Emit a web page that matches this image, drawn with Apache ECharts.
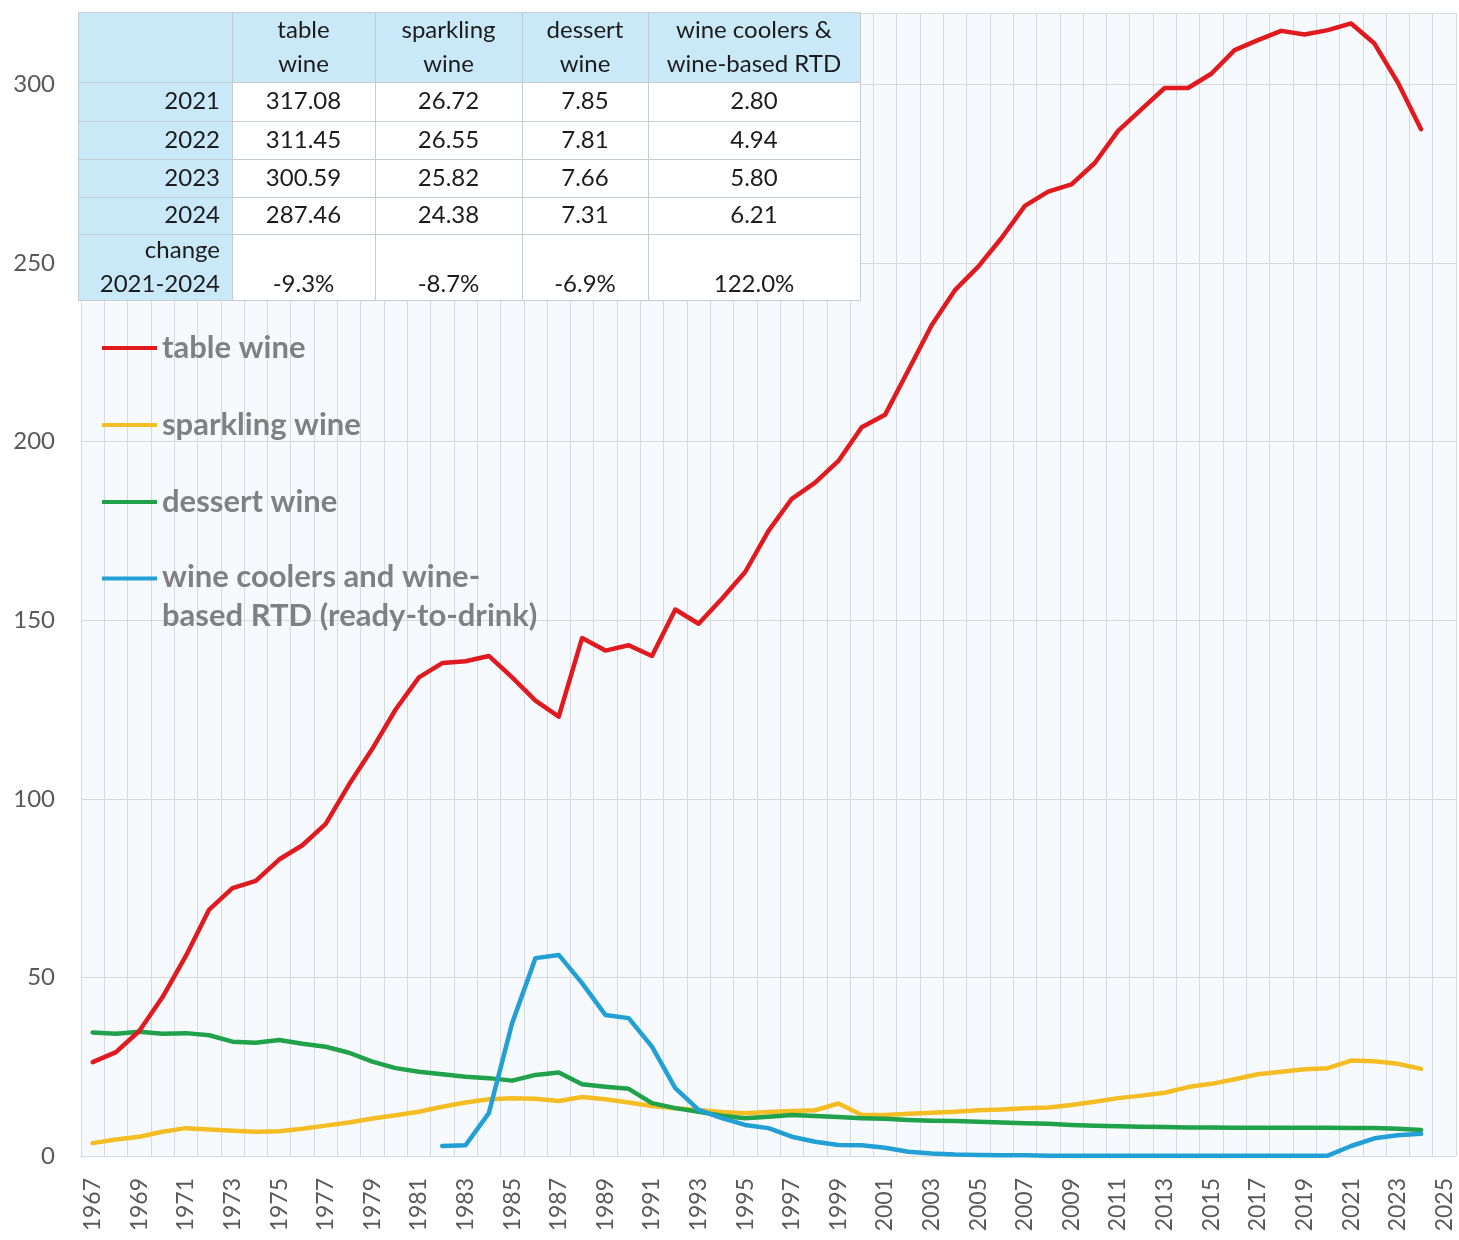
<!DOCTYPE html>
<html>
<head>
<meta charset="utf-8">
<script src="https://cdn.jsdelivr.net/npm/echarts@6/dist/echarts.min.js"></script>
<style>
html,body{margin:0;padding:0;background:#fff;}
#chart{width:1459px;height:1240px;}
</style>
</head>
<body>
<div id="chart"></div>
<script>
const years = ['1967','1968','1969','1970','1971','1972','1973','1974','1975','1976','1977','1978','1979','1980',
'1981','1982','1983','1984','1985','1986','1987','1988','1989','1990','1991','1992','1993','1994','1995','1996',
'1997','1998','1999','2000','2001','2002','2003','2004','2005','2006','2007','2008','2009','2010','2011','2012',
'2013','2014','2015','2016','2017','2018','2019','2020','2021','2022','2023','2024','2025'];

const tableWine = [26.3,29.1,35,44.5,56,69,75,77,83,87,93,104,114,125,
134,138,138.5,140,134,127.5,123,145,141.5,143,140,153,149,156,163.5,175,
184,188.5,194.6,204,207.5,220,232.6,242.4,249,257,266,270,272,278,287,293,
299,299,303,309.6,312.4,315,314,315.2,317.08,311.45,300.59,287.46,null];

const sparklingWine = [3.6,4.6,5.4,6.8,7.8,7.4,7.1,6.8,6.9,7.6,8.5,9.4,10.5,11.4,
12.4,13.8,15,15.9,16.2,16,15.4,16.5,15.9,15,14,13.4,12.9,12.3,12,12.3,
12.6,12.8,14.7,11.5,11.5,11.8,12.1,12.4,12.8,13,13.4,13.6,14.3,15.2,16.2,16.9,
17.7,19.3,20.2,21.5,22.9,23.6,24.3,24.6,26.72,26.55,25.82,24.38,null];

const dessertWine = [34.6,34.2,34.8,34.2,34.4,33.8,32.0,31.7,32.5,31.4,30.6,28.9,26.4,24.6,
23.6,22.9,22.2,21.8,21.1,22.7,23.4,20.1,19.4,18.8,14.8,13.4,12.4,11.3,10.6,11,
11.5,11.2,10.9,10.6,10.4,10.1,9.9,9.8,9.6,9.4,9.2,9.0,8.7,8.5,8.3,8.2,
8.1,8.0,8.0,7.9,7.9,7.9,7.9,7.9,7.85,7.81,7.66,7.31,null];

const wineCoolers = [null,null,null,null,null,null,null,null,null,null,null,null,null,null,
null,2.8,3.0,12,37.2,55.4,56.3,48.4,39.5,38.6,30.6,19,12.9,10.6,8.7,7.8,
5.4,4.0,3.1,3.0,2.3,1.2,0.7,0.4,0.3,0.2,0.2,0.1,0.1,0.1,0.1,0.1,
0.1,0.1,0.1,0.1,0.1,0.1,0.1,0.1,2.80,4.94,5.80,6.21,null];

const seriesNames = ['table wine','sparkling wine','dessert wine','wine coolers and wine-based RTD (ready-to-drink)'];
const seriesColors = ['#e01a1f','#f5bd24','#1fa24a','#229fd4'];

const yTicks = [0,50,100,150,200,250,300];

// summary table
const tableHeaders = ['table\nwine','sparkling\nwine','dessert\nwine','wine coolers &\nwine-based RTD'];
const tableRowLabels = ['2021','2022','2023','2024','change\n2021-2024'];
const tblTable = ['317.08','311.45','300.59','287.46','-9.3%'];
const tblSparkling = ['26.72','26.55','25.82','24.38','-8.7%'];
const tblDessert = ['7.85','7.81','7.66','7.31','-6.9%'];
const tblCoolers = ['2.80','4.94','5.80','6.21','122.0%'];

const chart = echarts.init(document.getElementById('chart'), null, {renderer:'canvas'});

// build table graphics
const colX = [78, 232, 375, 522, 648, 860];
const rowY = [12, 82, 121, 159, 197, 234, 300];
const cellBlue = '#c9e8f8';
const gridStroke = '#c3ccd2';
const tFont = '24px Lato';
const tColor = '#1c1c1c';
const tableCols = [tblTable, tblSparkling, tblDessert, tblCoolers];
const gElems = [];
for (let r = 0; r < rowY.length - 1; r++) {
  for (let c = 0; c < colX.length - 1; c++) {
    const blue = (r === 0 || c === 0);
    gElems.push({type:'rect', z:100, shape:{x:colX[c]+0.5, y:rowY[r]+0.5, width:colX[c+1]-colX[c], height:rowY[r+1]-rowY[r]},
      style:{fill: blue ? cellBlue : '#ffffff', stroke: gridStroke, lineWidth:1}});
  }
}
function txt(text, x, y, align, va) {
  gElems.push({type:'text', z:101, x:x, y:y, style:{text:text, font:tFont, fill:tColor, textAlign:align, align:align,
    textVerticalAlign:va, verticalAlign:va, lineHeight:34}});
}
// headers
for (let c = 0; c < tableHeaders.length; c++) {
  txt(tableHeaders[c], (colX[c+1]+colX[c+2])/2, (rowY[0]+rowY[1])/2, 'center', 'middle');
}
// rows
for (let r = 0; r < tableRowLabels.length; r++) {
  const last = r === tableRowLabels.length - 1;
  const yMid = (rowY[r+1]+rowY[r+2])/2;
  txt(tableRowLabels[r], colX[1]-12, yMid, 'right', 'middle');
  for (let c = 0; c < tableCols.length; c++) {
    txt(tableCols[c][r], (colX[c+1]+colX[c+2])/2, last ? yMid + 17 : yMid, 'center', 'middle');
  }
}

const tinyTop = 'M0,0L0.01,0L0,0.01Z ';
const tinyBot = ' M0,44L0.01,44L0,43.99Z';
const iconMid = 'path://' + tinyTop + 'M0,20L55,20L55,24L0,24Z' + tinyBot;
const iconTop = 'path://' + tinyTop + 'M0,2.5L55,2.5L55,6.5L0,6.5Z' + tinyBot;

const series = [];
const dataArr = [tableWine, sparklingWine, dessertWine, wineCoolers];
const order = [1, 2, 3, 0];
order.forEach(i => {
  series.push({
    name: seriesNames[i], type:'line', data: dataArr[i], symbol:'none', smooth:false,
    connectNulls:false,
    lineStyle:{color: seriesColors[i], width:4.5, join:'round', cap:'round'},
    itemStyle:{color: seriesColors[i]},
    z: 3 + (i === 0 ? 3 : i)
  });
});

const option = {
  backgroundColor:'#ffffff',
  animation:false,
  grid:{left:81, right:3, top:13, bottom:84, show:true, backgroundColor:'#f7fafd', borderWidth:0},
  xAxis:{
    type:'category', data: years, boundaryGap:true,
    axisLine:{show:true, lineStyle:{color:'#d9d9d9', width:1}},
    axisTick:{show:false},
    axisLabel:{interval:1, rotate:90, margin:22, fontFamily:'Lato', fontSize:23, color:'#595959'},
    splitLine:{show:true, interval:0, lineStyle:{color:'#d5dae0', width:1}}
  },
  yAxis:{
    type:'value', min:0, max:320, interval:50,
    axisLine:{show:false}, axisTick:{show:false},
    axisLabel:{margin:26, fontFamily:'Lato', fontSize:24, color:'#595959', showMaxLabel:false,
      formatter: v => (yTicks.indexOf(v) >= 0 ? String(v) : '')},
    splitLine:{show:true, lineStyle:{color:'#d9d9d9', width:1}}
  },
  legend:{
    orient:'vertical', left:97, top:321, itemWidth:55, itemHeight:44, itemGap:33,
    selectedMode:false,
    itemStyle:{borderWidth:0},
    textStyle:{fontFamily:'Lato', fontWeight:'bold', fontSize:31, color:'#808080', lineHeight:39},
    formatter: name => name === seriesNames[3] ? 'wine coolers and wine-\nbased RTD (ready-to-drink)' : name,
    data: seriesNames.map((n, i) => ({name:n, icon: i === 3 ? iconTop : iconMid}))
  },
  graphic: {elements: gElems},
  series: series
};
chart.setOption(option);
</script>
</body>
</html>
